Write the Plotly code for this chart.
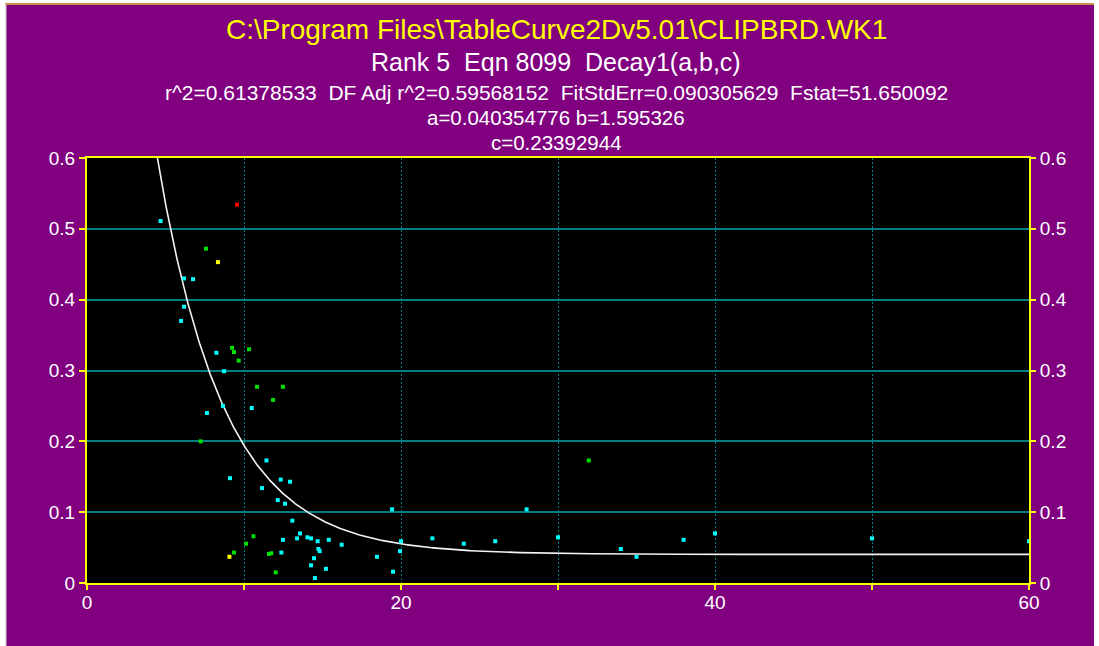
import numpy as np
import plotly.graph_objects as go

# Fit parameters (Decay1: y = a + b*exp(-c*x))
a_par = 0.040354776
b_par = 1.595326
c_par = 0.23392944

title_file = "C:\\Program Files\\TableCurve2Dv5.01\\CLIPBRD.WK1"
title_eqn = "Rank 5  Eqn 8099  Decay1(a,b,c)"
title_stats = "r^2=0.61378533  DF Adj r^2=0.59568152  FitStdErr=0.090305629  Fstat=51.650092"
title_ab = "a=0.040354776 b=1.595326"
title_c = "c=0.23392944"

# Observations, grouped by point colour
cyan_x = [4.69, 6.18, 6.75, 6.18, 5.99, 8.24, 8.73, 10.49, 8.66, 7.64,
          11.43, 9.11, 11.15, 12.34, 12.93, 12.15, 12.61, 13.08, 13.57, 12.48,
          13.38, 14.04, 14.27, 14.69, 15.40, 16.22, 18.47, 14.74, 14.82, 12.38,
          14.46, 14.27, 15.22, 14.52, 19.43, 20.0, 19.94, 19.49, 22.0, 24.0,
          26.0, 28.0, 30.0, 34.0, 35.0, 38.0, 40.0, 50.0, 60.0]
cyan_y = [0.511, 0.430, 0.429, 0.390, 0.370, 0.325, 0.299, 0.247, 0.250, 0.240,
          0.173, 0.148, 0.134, 0.146, 0.143, 0.117, 0.112, 0.088, 0.070, 0.061,
          0.063, 0.0645, 0.063, 0.059, 0.061, 0.054, 0.037, 0.048, 0.045, 0.043,
          0.035, 0.025, 0.020, 0.007, 0.104, 0.059, 0.045, 0.016, 0.063, 0.0555,
          0.059, 0.104, 0.0645, 0.048, 0.037, 0.061, 0.070, 0.063, 0.059]

green_x = [7.58, 9.24, 9.36, 10.32, 9.66, 10.83, 7.24, 12.48, 11.85, 10.60,
           10.13, 9.36, 11.59, 11.74, 12.02, 31.96]
green_y = [0.472, 0.332, 0.326, 0.330, 0.314, 0.277, 0.200, 0.277, 0.2585, 0.066,
           0.0555, 0.043, 0.041, 0.042, 0.015, 0.173]

yellow_x = [8.34, 9.07]
yellow_y = [0.453, 0.037]

red_x = [9.55]
red_y = [0.534]

x_ticks = [0, 10, 20, 30, 40, 50, 60]
x_tick_text = ["0", "", "20", "", "40", "", "60"]
y_ticks = [0, 0.1, 0.2, 0.3, 0.4, 0.5, 0.6]
y_tick_text = ["0", "0.1", "0.2", "0.3", "0.4", "0.5", "0.6"]

W, H = 1099, 646
L, R, T, B = 87, 70, 158, 63
pw, ph = W - L - R, H - T - B


def px_x(p):
    return (p - L) / pw


def px_y(p):
    return (H - B - p) / ph


PURPLE = "#800080"
TEAL = "#008080"
YELLOW = "#FFFF00"
FONT = "Liberation Sans, Arial, sans-serif"

fig = go.Figure()

# fitted curve
xc = np.linspace(3.5, 60, 1200)
yc = a_par + b_par * np.exp(-c_par * xc)
fig.add_trace(go.Scatter(x=xc, y=yc, mode="lines",
                         line=dict(color="#F4F4F4", width=1.6),
                         hoverinfo="skip", showlegend=False))

for xs, ys, col in [(cyan_x, cyan_y, "#00FFFF"), (green_x, green_y, "#00E000"),
                    (yellow_x, yellow_y, YELLOW), (red_x, red_y, "#FF0000")]:
    fig.add_trace(go.Scatter(x=xs, y=ys, mode="markers", cliponaxis=False,
                             marker=dict(symbol="square", size=4, color=col,
                                         line=dict(width=0)),
                             showlegend=False))

# invisible trace carrying the right-hand axis
fig.add_trace(go.Scatter(x=[0], y=[0], yaxis="y2", mode="markers",
                         marker=dict(opacity=0), hoverinfo="skip", showlegend=False))

shapes = [
    dict(type="rect", xref="paper", yref="paper", layer="below",
         x0=px_x(6), x1=px_x(1094), y0=px_y(H), y1=px_y(4),
         fillcolor=PURPLE, line=dict(width=0)),
    dict(type="rect", xref="paper", yref="paper", layer="below",
         x0=0, x1=1, y0=0, y1=1, fillcolor="#000000", line=dict(width=0)),
    dict(type="line", xref="paper", yref="paper", layer="below",
         x0=px_x(5), x1=px_x(1094), y0=px_y(4), y1=px_y(4),
         line=dict(color="#C89050", width=2)),
    dict(type="line", xref="paper", yref="paper", layer="below",
         x0=px_x(6), x1=px_x(6), y0=px_y(H), y1=px_y(4),
         line=dict(color="#C8C8C8", width=1)),
]

annots = []
for txt, py, size, col in [(title_file, 30, 28, YELLOW),
                           (title_eqn, 62, 25, "#FFFFFF"),
                           (title_stats, 92, 21, "#FFFFFF"),
                           (title_ab, 117, 20.5, "#FFFFFF"),
                           (title_c, 142, 20.5, "#FFFFFF")]:
    annots.append(dict(text=txt, xref="paper", yref="paper",
                       x=px_x(556), y=px_y(py), xanchor="center", yanchor="middle",
                       showarrow=False, font=dict(family=FONT, size=size, color=col)))

axis_common = dict(showline=True, linecolor=YELLOW, linewidth=2, zeroline=False,
                   ticks="outside", tickcolor=YELLOW, tickwidth=1.5,
                   tickfont=dict(family=FONT, size=19, color="#FFFFFF"))

fig.update_layout(
    width=W, height=H,
    margin=dict(l=L, r=R, t=T, b=B, pad=0),
    paper_bgcolor="#FFFFFF",
    plot_bgcolor="#000000",
    showlegend=False,
    shapes=shapes,
    annotations=annots,
    xaxis=dict(range=[0, 60], tickmode="array", tickvals=x_ticks, ticktext=x_tick_text,
               ticklen=5, ticklabelstandoff=-4, mirror=True, showgrid=True,
               gridcolor=TEAL, gridwidth=1, griddash="2px,2px", **axis_common),
    yaxis=dict(range=[0, 0.6], tickmode="array", tickvals=y_ticks, ticktext=y_tick_text,
               ticklen=6, mirror=True, showgrid=True, gridcolor=TEAL, gridwidth=1.5,
               **axis_common),
    yaxis2=dict(range=[0, 0.6], overlaying="y", side="right", anchor="x",
                tickmode="array", tickvals=y_ticks, ticktext=y_tick_text,
                ticklen=6, showgrid=False, zeroline=False, showline=False,
                ticks="outside", tickcolor=YELLOW, tickwidth=1.5,
                tickfont=dict(family=FONT, size=19, color="#FFFFFF")),
)

fig.write_html("out.html")
